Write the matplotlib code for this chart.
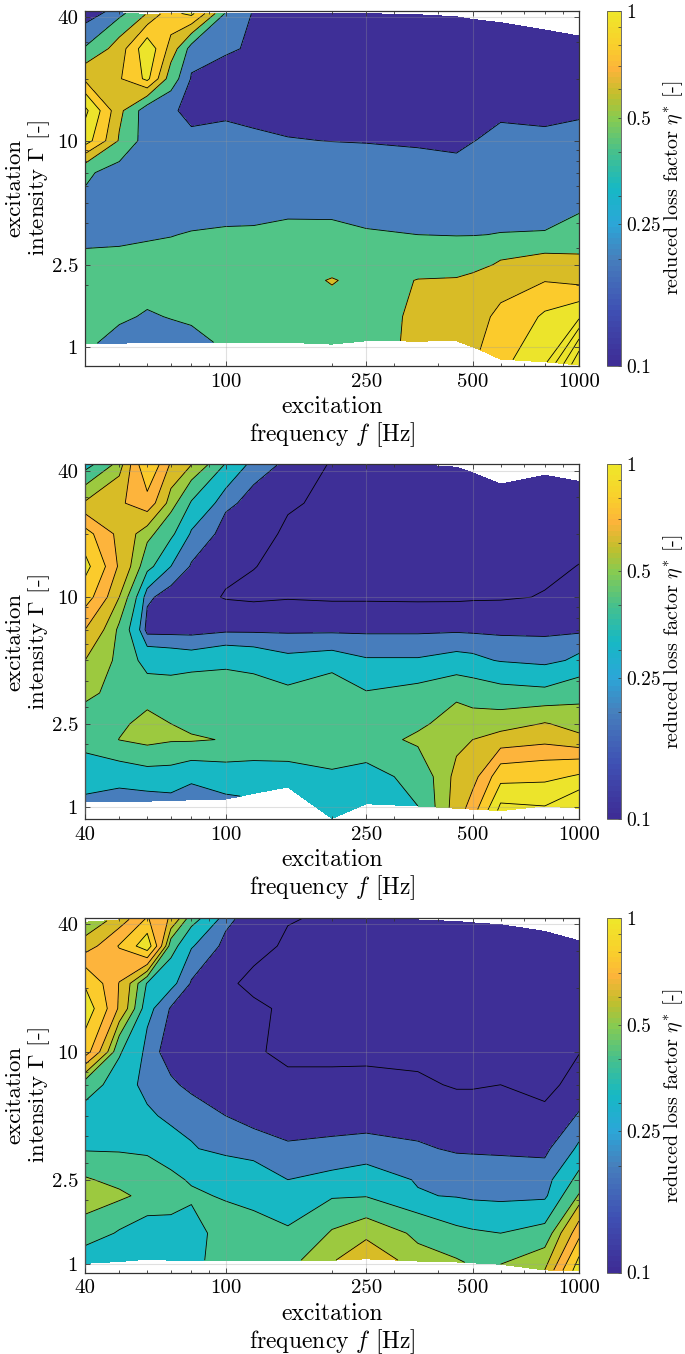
import numpy as np
import matplotlib
matplotlib.use("Agg")
import matplotlib.pyplot as plt
from matplotlib.cm import ScalarMappable
from matplotlib.colors import LinearSegmentedColormap, LogNorm
from matplotlib.ticker import FixedLocator, NullFormatter

plt.rcParams['font.family'] = ['cmr10', 'DejaVu Serif']
plt.rcParams['mathtext.fontset'] = 'cm'
plt.rcParams['axes.formatter.use_mathtext'] = True

freq = [40, 50, 60, 70, 80, 100, 120, 150, 200, 250, 350, 450, 500, 600, 800, 1000]

# intensity rows, top to bottom; first and last are replaced by the edges below
rows_a = [40, 28, 20, 14, 10, 7, 5, 3.5, 2.5, 2.1, 1.4, 1]
rows_b = [40, 28, 20, 14, 10, 7, 5, 3.5, 2.5, 2.1, 1.4, 1]
rows_c = [40, 31.5, 21, 16, 10, 7, 5, 3.5, 2.5, 2.1, 1.4, 1]

top_a = [43, 41.8, 41, 41.5, 41.5, 41.5, 41.5, 41.5, 41.5, 41.4, 40.9, 40, 38.8, 37.4, 34.5, 32.2]
bottom_a = [1.04, 1.04, 1.05, 1.05, 1.05, 1.05, 1.05, 1.05, 1.03, 1.07, 1.065, 1.07, 1.0, 0.87, 0.845, 0.815]
top_b = [42.6, 42.6, 42.6, 42.6, 42.6, 42.6, 42.6, 42.6, 42.8, 43, 42.6, 41.5, 39, 34.5, 38, 35.5]
bottom_b = [1.07, 1.07, 1.07, 1.08, 1.085, 1.095, 1.165, 1.25, 0.886, 1.04, 1.015, 0.99, 0.98, 0.965, 1.015, 0.99]
top_c = [40.8, 41.8, 42.7, 42.4, 42.4, 42.4, 42.4, 42.4, 42.4, 42.4, 41.8, 41.1, 40.5, 39.7, 36.9, 33.3]
bottom_c = [1.01, 1.03, 1.055, 1.045, 1.045, 1.045, 1.045, 1.045, 1.045, 1.06, 1.035, 1.025, 1.015, 1.0, 0.94, 0.93]

eta_a = [
    [.08, .24, .52, .85, .95, .28, .16, .12, .12, .12, .12, .12, .12, .12, .12, .12],
    [.31, .6, 1.05, .62, .22, .18, .16, .13, .12, .12, .12, .12, .12, .12, .12, .12],
    [.66, .68, .95, .38, .16, .14, .12, .12, .12, .12, .12, .12, .12, .12, .12, .12],
    [1.15, .55, .18, .19, .13, .14, .12, .13, .13, .13, .13, .13, .13, .155, .15, .155],
    [1.0, .48, .2, .21, .2, .22, .2, .175, .168, .165, .16, .155, .168, .19, .185, .2],
    [.33, .22, .2, .21, .2, .22, .22, .23, .23, .22, .2, .19, .2, .21, .21, .23],
    [.27, .22, .2, .21, .21, .23, .24, .25, .26, .25, .24, .22, .22, .22, .22, .27],
    [.27, .27, .28, .295, .31, .32, .32, .34, .33, .31, .3, .295, .295, .305, .31, .35],
    [.33, .34, .36, .35, .38, .38, .38, .39, .39, .38, .38, .4, .43, .53, .6, .57],
    [.4, .4, .4, .4, .4, .4, .4, .4, .52, .4, .51, .52, .56, .6, .69, .64],
    [.33, .33, .28, .31, .33, .38, .39, .39, .39, .4, .55, .6, .62, .75, .93, 1.05],
    [.33, .24, .2, .22, .25, .33, .36, .37, .38, .4, .56, .66, .65, .85, 1.05, 1.9],
]

eta_b = [
    [.27, .45, .89, .6, .5, .3, .19, .16, .12, .12, .12, .12, .12, .12, .12, .12],
    [.51, .6, .7, .45, .3, .18, .155, .13, .115, .11, .11, .11, .11, .11, .11, .11],
    [.8, .58, .44, .33, .21, .15, .14, .118, .112, .11, .11, .11, .11, .11, .11, .11],
    [.95, .6, .34, .22, .165, .135, .126, .115, .112, .11, .11, .11, .11, .115, .117, .126],
    [.82, .5, .18, .145, .14, .122, .118, .122, .119, .119, .118, .118, .12, .121, .127, .13],
    [.62, .39, .15, .15, .15, .16, .16, .16, .16, .16, .16, .162, .16, .158, .16, .16],
    [.5, .385, .27, .26, .25, .27, .26, .235, .245, .225, .225, .24, .235, .215, .2, .235],
    [.43, .38, .36, .36, .4, .4, .37, .33, .4, .315, .34, .385, .365, .34, .33, .37],
    [.37, .39, .445, .41, .39, .39, .39, .38, .38, .37, .39, .46, .45, .46, .505, .47],
    [.33, .412, .44, .42, .42, .405, .39, .38, .36, .37, .43, .47, .5, .54, .58, .52],
    [.28, .25, .27, .27, .24, .26, .26, .27, .3, .28, .34, .53, .57, .84, .86, .92],
    [.2, .19, .19, .2, .18, .21, .23, .24, .24, .24, .31, .55, .68, 1.1, 1.05, 1.2],
]

eta_c = [
    [.42, .55, .76, .6, .35, .185, .14, .127, .12, .11, .11, .11, .11, .11, .11, .11],
    [.55, .76, 1.0, .35, .225, .155, .135, .12, .11, .11, .11, .11, .11, .11, .11, .11],
    [.88, .615, .3, .24, .165, .13, .118, .11, .11, .11, .11, .11, .11, .11, .11, .11],
    [1.0, .6, .24, .165, .13, .13, .13, .12, .11, .11, .11, .11, .11, .11, .11, .115],
    [.82, .32, .2, .14, .13, .13, .13, .115, .115, .116, .116, .115, .115, .115, .115, .124],
    [.35, .27, .19, .18, .155, .145, .14, .135, .135, .135, .13, .122, .122, .125, .118, .135],
    [.28, .27, .235, .2, .2, .17, .155, .15, .15, .15, .15, .14, .14, .14, .13, .175],
    [.3, .3, .3, .26, .225, .2, .19, .175, .18, .185, .175, .165, .165, .165, .16, .23],
    [.42, .38, .34, .33, .3, .28, .26, .22, .235, .25, .215, .195, .19, .185, .19, .34],
    [.47, .43, .38, .36, .325, .3, .29, .26, .3, .305, .225, .215, .205, .2, .205, .42],
    [.36, .3, .26, .27, .27, .36, .335, .32, .42, .47, .39, .33, .32, .31, .34, .7],
    [.25, .26, .25, .25, .27, .38, .37, .38, .49, .58, .44, .42, .4, .41, .5, 1.0],
]

levels_a = [.05, .17, .3, .5, .7, .9, 1.1, 1.3, 1.5, 1.7, 3]
levels_bc = [.05, .125, .17, .22, .31, .41, .5, .62, .75, .9, 1.05, 3]

indigo = '#3e2f97'
blue = '#477dbc'
teal = '#17b8c4'
green = '#47c28c'
olive = '#9cc93f'
gold = '#d8bc26'
orange = '#fdb43c'
yellow = '#fbcb2c'
bright = '#ece42b'
colors_a = ['#3e2f97', blue, '#51c587', gold, yellow, bright, bright, bright, bright, bright]
colors_bc = [indigo, indigo, blue, teal, green, olive, gold, orange, yellow, bright, bright]

parula = LinearSegmentedColormap.from_list('parula_ish', [
    (0.0, '#3e2d96'), (0.15, '#3f50b3'), (0.3, '#4680bd'), (0.4, '#2ba7d8'),
    (0.5, '#16b8c4'), (0.6, '#45c08e'), (0.7, '#88cb50'), (0.77, '#c4be2c'),
    (0.84, '#fcb43a'), (0.91, '#f9cf2c'), (1.0, '#efe62a')], N=64)
norm = LogNorm(0.1, 1)

W, H = 685, 1354
fig = plt.figure(figsize=(W / 100, H / 100), dpi=100)


def panel(y0, y1, rows, top, bottom, eta, ylim, levels, colors, show40):
    ax = fig.add_axes([85 / W, 1 - y1 / H, 494 / W, (y1 - y0) / H])
    X = np.tile(np.array(freq, float), (len(rows), 1))
    Y = np.array([[r] * len(freq) for r in rows], float)
    Y[0] = top
    Y[-1] = bottom
    Z = np.array(eta)
    ax.contourf(X, Y, Z, levels=levels, colors=colors)
    ax.contour(X, Y, Z, levels=levels[1:-1], colors='k', linewidths=0.6)
    ax.set_xscale('log')
    ax.set_yscale('log')
    ax.set_xlim(40, 1000)
    ax.set_ylim(*ylim)
    xt = [40, 100, 250, 500, 1000] if show40 else [100, 250, 500, 1000]
    ax.set_xticks(xt, [str(t) for t in xt])
    ax.set_yticks([1, 2.5, 10, 40], ['1', '2.5', '10', '40'])
    ax.xaxis.set_minor_locator(FixedLocator([50, 60, 70, 80, 90, 200, 300, 400, 600, 700, 800, 900]))
    ax.yaxis.set_minor_locator(FixedLocator([2, 3, 4, 5, 6, 7, 8, 9, 20, 30]))
    ax.xaxis.set_minor_formatter(NullFormatter())
    ax.yaxis.set_minor_formatter(NullFormatter())
    ax.tick_params(which='both', direction='in', top=True, right=True, color='#333333', width=0.6)
    ax.tick_params(which='major', length=3.5, labelsize=15, pad=5)
    ax.tick_params(which='minor', length=2)
    ax.grid(True, which='major', color='#999999', alpha=0.3, linewidth=0.8)
    ax.set_axisbelow(False)
    for s in ax.spines.values():
        s.set_color('#333333')
        s.set_linewidth(0.9)
    ax.set_xlabel('excitation\nfrequency $f$ [Hz]', fontsize=17, linespacing=1.1)
    ax.xaxis.set_label_coords(0.5, -0.085)
    ax.set_ylabel('excitation\nintensity $\\Gamma$ [-]', fontsize=16.5, linespacing=1.1)
    ax.yaxis.set_label_coords(-0.066, 0.5)
    cax = fig.add_axes([607 / W, 1 - y1 / H, 14 / W, (y1 - y0) / H])
    cb = fig.colorbar(ScalarMappable(norm=norm, cmap=parula), cax=cax)
    cb.set_ticks([0.1, 0.25, 0.5, 1], labels=['0.1', '0.25', '0.5', '1'])
    cb.ax.yaxis.set_minor_locator(FixedLocator([.2, .3, .4, .6, .7, .8, .9]))
    cb.ax.yaxis.set_minor_formatter(NullFormatter())
    cb.ax.tick_params(which='both', direction='in', color='#333333', width=0.5, length=2, labelsize=14, pad=4)
    cb.outline.set_edgecolor('#555555')
    cb.outline.set_linewidth(0.6)
    cb.set_label('reduced loss factor $\\eta^{*}$ [-]', fontsize=14.5)
    cb.ax.yaxis.set_label_coords(3.9, 0.5)
    return ax


panel(10.7, 365.7, rows_a, top_a, bottom_a, eta_a, (0.809, 42.8), levels_a, colors_a, False)
panel(464, 819, rows_b, top_b, bottom_b, eta_b, (0.88, 43), levels_bc, colors_bc, True)
panel(918, 1272.5, rows_c, top_c, bottom_c, eta_c, (0.914, 42.7), levels_bc, colors_bc, True)

fig.savefig('out.png', dpi=100)
plt.close(fig)
